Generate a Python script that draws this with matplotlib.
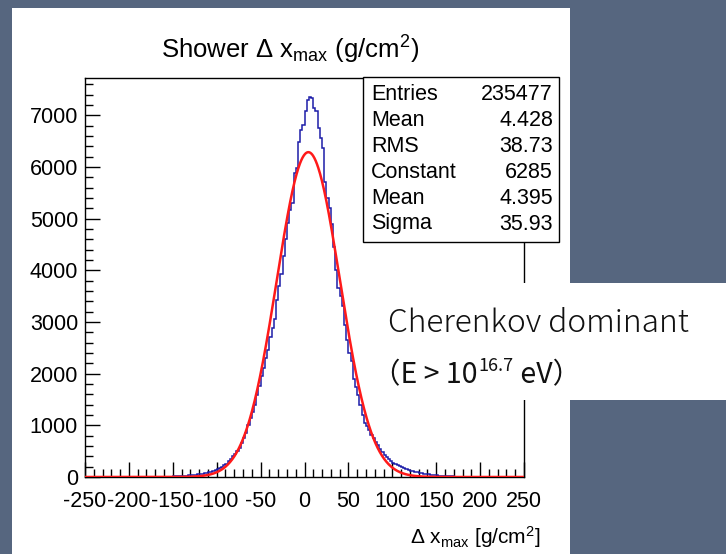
import numpy as np
import matplotlib
matplotlib.use("Agg")
import matplotlib.pyplot as plt
from matplotlib.patches import Rectangle
from matplotlib.ticker import MultipleLocator

plt.rcParams['font.family'] = ['Liberation Sans', 'DejaVu Sans']
plt.rcParams['mathtext.fontset'] = 'custom'
plt.rcParams['mathtext.rm'] = 'Liberation Sans'
plt.rcParams['mathtext.it'] = 'Liberation Sans:italic'
plt.rcParams['mathtext.bf'] = 'Liberation Sans:bold'
plt.rcParams['axes.unicode_minus'] = False

# ---------------- data ----------------
x_min, x_max, n_bins = -250, 250, 200
counts = [
    0, 0, 0, 0, 0, 0, 0, 0, 0, 0,
    0, 0, 0, 0, 0, 0, 0, 1, 0, 0,
    2, 0, 1, 0, 3, 1, 2, 3, 2, 4,
    2, 3, 2, 4, 3, 5, 6, 6, 8, 9,
    10, 12, 14, 17, 20, 23, 27, 31, 35, 40,
    45, 50, 56, 63, 70, 78, 88, 98, 112, 130,
    150, 170, 195, 225, 260, 300, 350, 400, 445, 500,
    570, 660, 760, 860, 1010, 1140, 1260, 1400, 1580, 1760,
    1950, 2110, 2300, 2460, 2700, 2880, 3050, 3430, 3700, 3920,
    4270, 4600, 4910, 5170, 5300, 5880, 5980, 6490, 6720, 6820,
    7090, 7300, 7360, 7330, 7140, 7080, 6760, 6560, 6370, 5700,
    5400, 5200, 4900, 4450, 4000, 3650, 3500, 3300, 2950, 2650,
    2400, 2250, 1900, 1750, 1580, 1400, 1200, 1050, 980, 900,
    820, 760, 680, 610, 540, 480, 430, 385, 345, 310,
    280, 250, 225, 205, 185, 165, 150, 135, 122, 110,
    100, 90, 82, 74, 66, 60, 54, 48, 42, 37,
    32, 28, 24, 21, 18, 15, 13, 11, 9, 8,
    6, 5, 4, 3, 3, 2, 2, 1, 2, 1,
    0, 1, 0, 0, 1, 0, 0, 0, 0, 0,
    0, 0, 0, 0, 1, 0, 0, 0, 0, 0,
]
fit_constant = 6285
fit_mean = 4.395
fit_sigma = 35.93

stat_labels = ["Entries", "Mean", "RMS", "Constant", "Mean", "Sigma"]
stat_values = ["235477", "4.428", "38.73", "6285", "4.395", "35.93"]

x_ticks = [-250, -200, -150, -100, -50, 0, 50, 100, 150, 200, 250]
y_ticks = [0, 1000, 2000, 3000, 4000, 5000, 6000, 7000]

title_text = "Shower \u0394 x$_{\\mathrm{max}}$ (g/cm$^{\\mathrm{2}}$)"
xlabel_text = "\u0394 x$_{\\mathrm{max}}$ [g/cm$^{\\mathrm{2}}$]"
note_line1 = "Cherenkov dominant"
note_line2_a = "\uff08E > 10"
note_line2_sup = "16.7"
note_line2_b = " eV\uff09"

# ---------------- figure ----------------
W, H = 726, 554
fig = plt.figure(figsize=(W / 100, H / 100), dpi=100)
fig.patch.set_facecolor('#56667f')

def fx(px):
    return px / W

def fy(py):
    return 1 - py / H

# white canvas panel
fig.add_artist(Rectangle((fx(12), 0), fx(570) - fx(12), fy(8), transform=fig.transFigure,
                         facecolor='white', edgecolor='none', zorder=-5))

ax = fig.add_axes([fx(85), fy(477), fx(524) - fx(85), fy(78) - fy(477)])
ax.set_facecolor('white')

edges = np.linspace(x_min, x_max, n_bins + 1)
ax.stairs(counts, edges, color='#1c1ca8', lw=1.1, zorder=2)

xs = np.linspace(x_min, x_max, 1000)
ax.plot(xs, fit_constant * np.exp(-0.5 * ((xs - fit_mean) / fit_sigma) ** 2),
        color='#ff1a1a', lw=1.8, zorder=3)

ax.set_xlim(x_min, x_max)
ax.set_ylim(0, 7720)
ax.set_xticks(x_ticks)
ax.set_yticks(y_ticks)
ax.xaxis.set_minor_locator(MultipleLocator(10))
ax.yaxis.set_minor_locator(MultipleLocator(200))
ax.tick_params(which='both', direction='in', top=False, right=False, colors='black')
ax.tick_params(which='major', length=11, width=1.0)
ax.tick_params(which='minor', length=5.5, width=1.0)
ax.tick_params(axis='x', which='major', labelsize=15.5, pad=10)
ax.tick_params(axis='y', which='major', labelsize=15.5, pad=5)
for s in ax.spines.values():
    s.set_color('black')
    s.set_linewidth(1.0)

# title and axis label
fig.text(fx(290), fy(50), title_text, ha='center', va='center', fontsize=18.5)
fig.text(fx(540), fy(537), xlabel_text, ha='right', va='center', fontsize=15)

# stats box
bx0, bx1, by0, by1 = 363, 559, 77, 242
fig.add_artist(Rectangle((fx(bx0), fy(by1)), fx(bx1) - fx(bx0), fy(by0) - fy(by1),
                         transform=fig.transFigure, facecolor='white', edgecolor='black',
                         lw=1.0, zorder=5))
row_y = [94, 120.5, 146.5, 172.5, 198, 224]
for lab, val, yy in zip(stat_labels, stat_values, row_y):
    fig.text(fx(371), fy(yy), lab, ha='left', va='center', fontsize=15.5, zorder=6)
    fig.text(fx(553), fy(yy), val, ha='right', va='center', fontsize=15.5, zorder=6)

# annotation white box
fig.add_artist(Rectangle((fx(378), fy(400)), 1 - fx(378), fy(283) - fy(400),
                         transform=fig.transFigure, facecolor='white', edgecolor='none',
                         zorder=7))
jp = ['Noto Sans CJK JP', 'DejaVu Sans']
fig.text(fx(388), fy(332), note_line1, ha='left', va='baseline', fontsize=22.8,
         family=jp, fontweight='light', color='#111111', zorder=8)

renderer = fig.canvas.get_renderer()
t1 = fig.text(fx(372), fy(383), note_line2_a, ha='left', va='baseline', fontsize=20.5,
              family=jp, color='#111111', zorder=8)
bb = t1.get_window_extent(renderer)
t2 = fig.text(bb.x1 / W + fx(1), fy(371), note_line2_sup, ha='left', va='baseline',
              fontsize=13, family=jp, color='#111111', zorder=8)
bb2 = t2.get_window_extent(renderer)
fig.text(bb2.x1 / W, fy(383), note_line2_b, ha='left', va='baseline', fontsize=20.5,
         family=jp, color='#111111', zorder=8)

fig.savefig('out.png', dpi=100, facecolor=fig.get_facecolor())
